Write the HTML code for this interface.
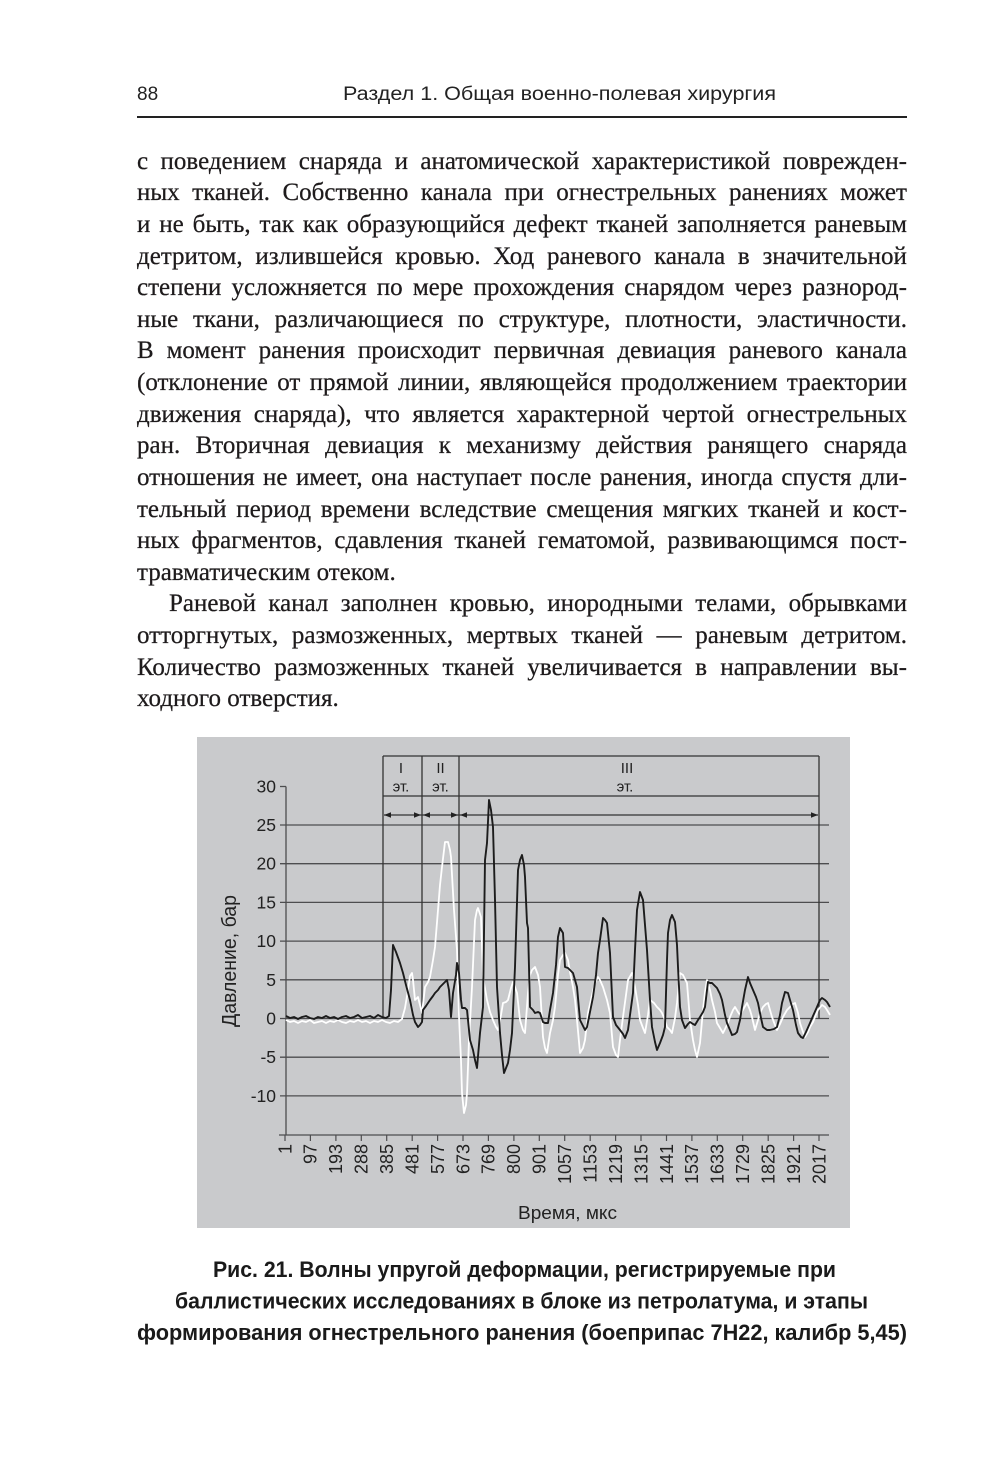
<!DOCTYPE html>
<html>
<head>
<meta charset="utf-8">
<style>
  html,body{margin:0;padding:0;background:#fff;}
  body{width:1000px;height:1467px;position:relative;overflow:hidden;}
  #svg{position:absolute;left:0;top:0;}
  #body{position:absolute;left:137px;top:145.7px;width:770px;
        font-family:"Liberation Serif",serif;font-size:25px;line-height:31.64px;color:#1e1b1c;
        -webkit-text-stroke:0.25px #1e1b1c;}
  .l{height:31.64px;display:flex;justify-content:space-between;white-space:nowrap;}
  .p{height:31.64px;white-space:nowrap;}
  .ind{margin-left:32px;}
</style>
</head>
<body>
<svg id="svg" width="1000" height="1467" viewBox="0 0 1000 1467" xmlns="http://www.w3.org/2000/svg">
  <!-- header -->
  <text x="137" y="100" font-family="Liberation Sans, sans-serif" font-size="19" fill="#222">88</text>
  <text x="343" y="100" font-family="Liberation Sans, sans-serif" font-size="19" fill="#222" textLength="433" lengthAdjust="spacingAndGlyphs">Раздел 1. Общая военно-полевая хирургия</text>
  <line x1="137" y1="117" x2="907" y2="117" stroke="#222" stroke-width="2"/>

  <!-- chart background -->
  <rect x="197" y="737" width="653" height="491" fill="#c9cacc"/>

  <!-- gridlines -->
  <g stroke="#4d4d4f" stroke-width="1.3">
    <line x1="280" y1="825" x2="829" y2="825"/>
    <line x1="280" y1="863.7" x2="829" y2="863.7"/>
    <line x1="280" y1="902.4" x2="829" y2="902.4"/>
    <line x1="280" y1="941.1" x2="829" y2="941.1"/>
    <line x1="280" y1="979.8" x2="829" y2="979.8"/>
    <line x1="280" y1="1018.5" x2="829" y2="1018.5"/>
    <line x1="280" y1="1057.2" x2="829" y2="1057.2"/>
    <line x1="280" y1="1095.9" x2="829" y2="1095.9"/>
    <line x1="280" y1="786.5" x2="286" y2="786.5"/>
    <line x1="286" y1="786.5" x2="286" y2="1135"/>
    <line x1="279" y1="1135" x2="829" y2="1135"/>
  </g>
  <!-- x ticks -->
  <g stroke="#4d4d4f" stroke-width="1.2">
    <line x1="285" y1="1135" x2="285" y2="1141"/>
    <line x1="310.4" y1="1135" x2="310.4" y2="1141"/>
    <line x1="335.9" y1="1135" x2="335.9" y2="1141"/>
    <line x1="361.3" y1="1135" x2="361.3" y2="1141"/>
    <line x1="386.7" y1="1135" x2="386.7" y2="1141"/>
    <line x1="412.2" y1="1135" x2="412.2" y2="1141"/>
    <line x1="437.6" y1="1135" x2="437.6" y2="1141"/>
    <line x1="463" y1="1135" x2="463" y2="1141"/>
    <line x1="488.4" y1="1135" x2="488.4" y2="1141"/>
    <line x1="513.9" y1="1135" x2="513.9" y2="1141"/>
    <line x1="539.3" y1="1135" x2="539.3" y2="1141"/>
    <line x1="564.7" y1="1135" x2="564.7" y2="1141"/>
    <line x1="590.2" y1="1135" x2="590.2" y2="1141"/>
    <line x1="615.6" y1="1135" x2="615.6" y2="1141"/>
    <line x1="641" y1="1135" x2="641" y2="1141"/>
    <line x1="666.5" y1="1135" x2="666.5" y2="1141"/>
    <line x1="691.9" y1="1135" x2="691.9" y2="1141"/>
    <line x1="717.3" y1="1135" x2="717.3" y2="1141"/>
    <line x1="742.7" y1="1135" x2="742.7" y2="1141"/>
    <line x1="768.2" y1="1135" x2="768.2" y2="1141"/>
    <line x1="793.6" y1="1135" x2="793.6" y2="1141"/>
    <line x1="819" y1="1135" x2="819" y2="1141"/>
  </g>

  <!-- y labels -->
  <g font-family="Liberation Sans, sans-serif" font-size="17.5" fill="#222" text-anchor="end">
    <text x="276" y="792.5">30</text>
    <text x="276" y="831">25</text>
    <text x="276" y="869.7">20</text>
    <text x="276" y="908.4">15</text>
    <text x="276" y="947.1">10</text>
    <text x="276" y="985.8">5</text>
    <text x="276" y="1024.5">0</text>
    <text x="276" y="1063.2">-5</text>
    <text x="276" y="1101.9">-10</text>
  </g>
  <text transform="translate(236,961) rotate(-90)" font-family="Liberation Sans, sans-serif" font-size="20" fill="#222" text-anchor="middle" textLength="132" lengthAdjust="spacingAndGlyphs">Давление, бар</text>

  <!-- x labels -->
  <g font-family="Liberation Sans, sans-serif" font-size="18" fill="#222" text-anchor="end">
    <text transform="translate(285,1144) rotate(-90)" dy="0.35em">1</text>
    <text transform="translate(310.4,1144) rotate(-90)" dy="0.35em">97</text>
    <text transform="translate(335.9,1144) rotate(-90)" dy="0.35em">193</text>
    <text transform="translate(361.3,1144) rotate(-90)" dy="0.35em">288</text>
    <text transform="translate(386.7,1144) rotate(-90)" dy="0.35em">385</text>
    <text transform="translate(412.2,1144) rotate(-90)" dy="0.35em">481</text>
    <text transform="translate(437.6,1144) rotate(-90)" dy="0.35em">577</text>
    <text transform="translate(463,1144) rotate(-90)" dy="0.35em">673</text>
    <text transform="translate(488.4,1144) rotate(-90)" dy="0.35em">769</text>
    <text transform="translate(513.9,1144) rotate(-90)" dy="0.35em">800</text>
    <text transform="translate(539.3,1144) rotate(-90)" dy="0.35em">901</text>
    <text transform="translate(564.7,1144) rotate(-90)" dy="0.35em">1057</text>
    <text transform="translate(590.2,1144) rotate(-90)" dy="0.35em">1153</text>
    <text transform="translate(615.6,1144) rotate(-90)" dy="0.35em">1219</text>
    <text transform="translate(641,1144) rotate(-90)" dy="0.35em">1315</text>
    <text transform="translate(666.5,1144) rotate(-90)" dy="0.35em">1441</text>
    <text transform="translate(691.9,1144) rotate(-90)" dy="0.35em">1537</text>
    <text transform="translate(717.3,1144) rotate(-90)" dy="0.35em">1633</text>
    <text transform="translate(742.7,1144) rotate(-90)" dy="0.35em">1729</text>
    <text transform="translate(768.2,1144) rotate(-90)" dy="0.35em">1825</text>
    <text transform="translate(793.6,1144) rotate(-90)" dy="0.35em">1921</text>
    <text transform="translate(819,1144) rotate(-90)" dy="0.35em">2017</text>
  </g>
  <text x="567.5" y="1219" font-family="Liberation Sans, sans-serif" font-size="18" fill="#222" text-anchor="middle" textLength="99" lengthAdjust="spacingAndGlyphs">Время, мкс</text>

  <!-- phase box -->
  <g stroke="#333" stroke-width="1.3" fill="none">
    <line x1="383" y1="756" x2="819" y2="756"/>
    <line x1="383" y1="796" x2="819" y2="796"/>
    <line x1="383" y1="756" x2="383" y2="1018.5"/>
    <line x1="422" y1="756" x2="422" y2="1018.5"/>
    <line x1="459" y1="756" x2="459" y2="1018.5"/>
    <line x1="819" y1="756" x2="819" y2="1018.5"/>
    <line x1="384" y1="815" x2="818" y2="815"/>
  </g>
  <g fill="#222">
    <polygon points="384,815 391,812.3 391,817.7"/>
    <polygon points="421,815 414,812.3 414,817.7"/>
    <polygon points="423,815 430,812.3 430,817.7"/>
    <polygon points="458,815 451,812.3 451,817.7"/>
    <polygon points="460,815 467,812.3 467,817.7"/>
    <polygon points="818,815 811,812.3 811,817.7"/>
  </g>
  <g font-family="Liberation Sans, sans-serif" font-size="15" fill="#222" text-anchor="middle">
    <text x="401" y="773">I</text>
    <text x="401" y="791.5">эт.</text>
    <text x="440.5" y="773">II</text>
    <text x="440.5" y="791.5">эт.</text>
    <text x="627" y="773">III</text>
    <text x="625" y="791.5">эт.</text>
  </g>

  <!-- white series -->
  <polyline fill="none" stroke="#ffffff" stroke-width="1.8" stroke-linejoin="round" points="286,1020 290,1022 294,1021 298,1023 302,1021 306,1022 310,1020 314,1023 318,1022 322,1021 326,1023 330,1021 334,1022 338,1020 342,1022 346,1023 350,1021 354,1022 358,1020 362,1022 366,1021 370,1023 374,1021 378,1022 382,1020 386,1022 390,1023 394,1021 398,1022 402,1019 405,1008 408,990 410,976 412,973 413,980 415,1000 418,997 420,1005 422,1013 425,987 428,982 430,977 433,960 435,947 438,910 440,885 442,867 445,842 448,842 450,850 451,857 454,910 457,950 459,1017 461,1060 462,1093 464,1113 466,1105 467,1093 469,1040 472,987 475,920 477,910 478,908 481,917 483,977 487,1000 490,1012 493,1020 496,1027 498,1030 501,1015 503,1003 506,1002 508,1000 511,988 513,982 515,987 517,993 520,1020 523,1030 525,1033 528,993 530,975 532,970 535,967 538,975 540,987 543,1037 545,1048 547,1053 550,1033 553,1020 555,1007 558,975 560,960 563,955 565,953 568,960 570,972 573,987 575,1000 577,1020 580,1053 583,1048 585,1040 588,1013 592,995 595,983 598,977 600,980 603,987 607,1000 610,1013 613,1047 616,1055 618,1057 620,1040 623,1017 626,995 628,980 632,973 635,987 638,1005 640,1020 643,1028 645,1033 648,1015 650,1000 654,1003 657,1007 660,1010 662,1013 665,1020 667,1027 670,1030 672,1033 675,1018 677,1003 680,973 683,975 687,983 690,1020 693,1040 695,1050 697,1057 700,1043 703,1010 705,992 707,980 710,990 712,1000 715,1012 717,1023 720,1028 723,1033 727,1025 730,1017 733,1010 735,1007 738,1012 740,1015 744,1008 747,1003 750,1010 752,1017 755,1030 758,1020 760,1013 763,1007 766,1004 768,1003 770,1010 772,1017 775,1025 777,1030 780,1024 783,1017 787,1010 790,1007 793,1004 795,1003 798,1013 800,1023 803,1032 805,1037 808,1032 810,1027 813,1022 815,1017 818,1010 822,1005 825,1007 827,1010 830,1015"/>

  <!-- black series -->
  <polyline fill="none" stroke="#1c1c1c" stroke-width="1.9" stroke-linejoin="round" points="286,1016 290,1018 294,1017 298,1019 302,1017 306,1016 310,1018 314,1019 318,1017 322,1018 326,1016 330,1018 334,1017 338,1019 342,1017 346,1016 350,1018 354,1017 358,1015 362,1018 366,1017 370,1016 374,1018 378,1015 382,1017 386,1018 389,1016 391,990 393,945 396,952 400,963 403,973 406,985 410,1000 413,1015 415,1022 418,1027 420,1025 422,1022 423,1010 426,1006 430,1000 433,996 435,993 438,990 440,987 443,984 445,982 447,980 449,990 451,1017 453,993 456,975 457,963 459,973 461,1000 462,1008 465,1008 467,1010 470,1040 473,1050 475,1060 477,1068 480,1033 483,1007 485,860 487,843 489,800 491,810 493,827 495,900 497,987 500,1033 502,1055 504,1073 506,1068 508,1063 510,1050 512,1033 515,967 518,870 520,860 522,855 524,865 525,877 527,923 528,928 530,1007 533,1010 535,1013 538,1012 540,1013 543,1022 545,1023 548,1023 550,1010 553,993 556,965 558,937 560,928 563,933 565,967 568,968 570,970 573,973 575,980 577,987 580,1020 583,1026 585,1030 587,1027 590,1012 593,997 596,975 598,953 600,940 603,918 605,920 607,923 610,953 613,1017 616,1025 620,1030 623,1034 625,1038 628,1030 630,1015 633,993 635,950 637,910 640,892 643,900 645,925 647,950 650,1000 652,1027 655,1042 657,1050 660,1043 663,1035 665,1027 667,960 668,933 670,920 672,915 675,922 677,945 678,967 680,1007 682,1020 685,1028 688,1024 690,1022 693,1024 695,1025 698,1020 700,1017 703,1012 705,1007 707,990 708,982 710,983 712,983 715,986 717,988 720,994 722,1000 725,1015 727,1023 730,1030 732,1035 735,1034 737,1032 740,1020 742,1007 745,990 748,977 750,983 753,990 756,997 758,1003 761,1018 763,1027 767,1030 770,1030 774,1029 777,1027 780,1015 782,1003 785,992 788,993 790,1000 793,1010 796,1025 798,1033 801,1037 803,1038 806,1032 810,1023 813,1016 817,1007 820,1000 822,998 825,1000 827,1002 830,1007"/>

  <!-- caption -->
  <g font-family="Liberation Sans, sans-serif" font-size="22" font-weight="bold" fill="#1a1a1a" text-anchor="middle">
    <text x="524.5" y="1277" textLength="623" lengthAdjust="spacingAndGlyphs">Рис. 21. Волны упругой деформации, регистрируемые при</text>
    <text x="521.5" y="1308.5" textLength="693" lengthAdjust="spacingAndGlyphs">баллистических исследованиях в блоке из петролатума, и этапы</text>
    <text x="522" y="1340" textLength="770" lengthAdjust="spacingAndGlyphs">формирования огнестрельного ранения (боеприпас 7Н22, калибр 5,45)</text>
  </g>
</svg>

<div id="body">
  <div class="l"><span>с</span><span>поведением</span><span>снаряда</span><span>и</span><span>анатомической</span><span>характеристикой</span><span>поврежден-</span></div>
  <div class="l"><span>ных</span><span>тканей.</span><span>Собственно</span><span>канала</span><span>при</span><span>огнестрельных</span><span>ранениях</span><span>может</span></div>
  <div class="l"><span>и</span><span>не</span><span>быть,</span><span>так</span><span>как</span><span>образующийся</span><span>дефект</span><span>тканей</span><span>заполняется</span><span>раневым</span></div>
  <div class="l"><span>детритом,</span><span>излившейся</span><span>кровью.</span><span>Ход</span><span>раневого</span><span>канала</span><span>в</span><span>значительной</span></div>
  <div class="l"><span>степени</span><span>усложняется</span><span>по</span><span>мере</span><span>прохождения</span><span>снарядом</span><span>через</span><span>разнород-</span></div>
  <div class="l"><span>ные</span><span>ткани,</span><span>различающиеся</span><span>по</span><span>структуре,</span><span>плотности,</span><span>эластичности.</span></div>
  <div class="l"><span>В</span><span>момент</span><span>ранения</span><span>происходит</span><span>первичная</span><span>девиация</span><span>раневого</span><span>канала</span></div>
  <div class="l"><span>(отклонение</span><span>от</span><span>прямой</span><span>линии,</span><span>являющейся</span><span>продолжением</span><span>траектории</span></div>
  <div class="l"><span>движения</span><span>снаряда),</span><span>что</span><span>является</span><span>характерной</span><span>чертой</span><span>огнестрельных</span></div>
  <div class="l"><span>ран.</span><span>Вторичная</span><span>девиация</span><span>к</span><span>механизму</span><span>действия</span><span>ранящего</span><span>снаряда</span></div>
  <div class="l"><span>отношения</span><span>не</span><span>имеет,</span><span>она</span><span>наступает</span><span>после</span><span>ранения,</span><span>иногда</span><span>спустя</span><span>дли-</span></div>
  <div class="l"><span>тельный</span><span>период</span><span>времени</span><span>вследствие</span><span>смещения</span><span>мягких</span><span>тканей</span><span>и</span><span>кост-</span></div>
  <div class="l"><span>ных</span><span>фрагментов,</span><span>сдавления</span><span>тканей</span><span>гематомой,</span><span>развивающимся</span><span>пост-</span></div>
  <div class="p">травматическим отеком.</div>
  <div class="l ind"><span>Раневой</span><span>канал</span><span>заполнен</span><span>кровью,</span><span>инородными</span><span>телами,</span><span>обрывками</span></div>
  <div class="l"><span>отторгнутых,</span><span>размозженных,</span><span>мертвых</span><span>тканей</span><span>—</span><span>раневым</span><span>детритом.</span></div>
  <div class="l"><span>Количество</span><span>размозженных</span><span>тканей</span><span>увеличивается</span><span>в</span><span>направлении</span><span>вы-</span></div>
  <div class="p">ходного отверстия.</div>
</div>
</body>
</html>
